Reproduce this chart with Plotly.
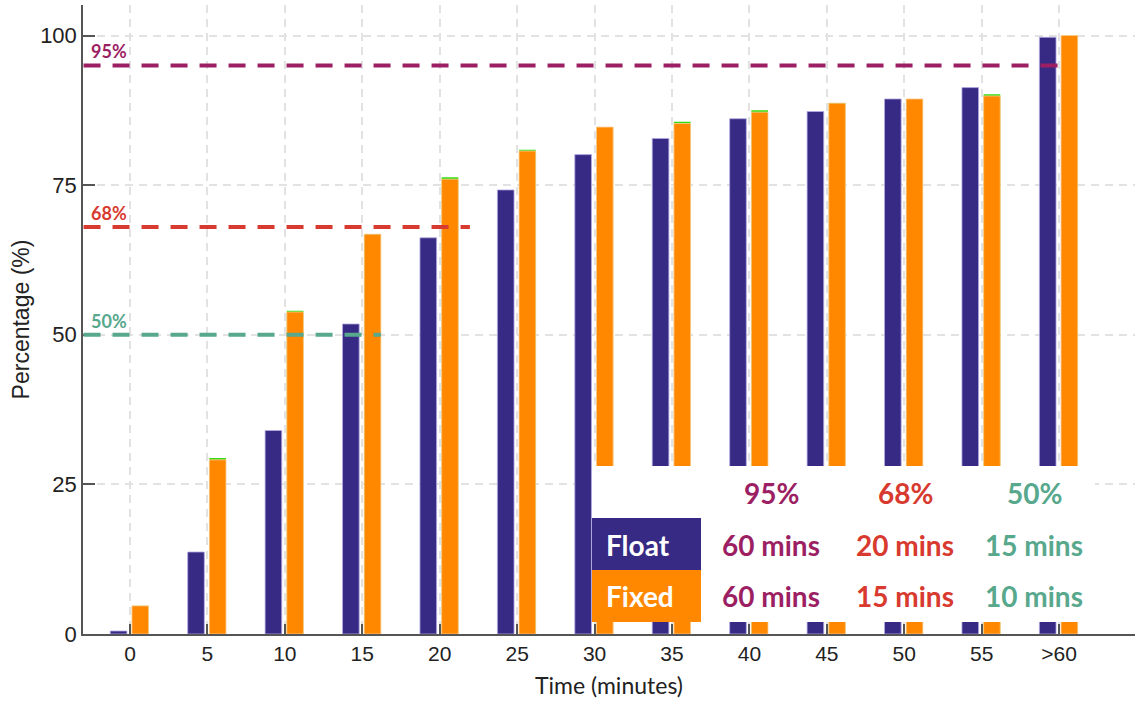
import plotly.graph_objects as go

# Cumulative share of trips completed by time (minutes)
categories = ["0", "5", "10", "15", "20", "25", "30", "35", "40", "45", "50", "55", ">60"]
float_pct = [0.5, 13.7, 34.0, 51.8, 66.2, 74.2, 80.1, 82.8, 86.1, 87.3, 89.4, 91.3, 99.7]
fixed_pct = [4.7, 29.1, 53.8, 66.8, 76.0, 80.7, 84.7, 85.3, 87.2, 88.7, 89.4, 89.9, 100.0]
fixed_alt_pct = [4.7, 29.4, 54.0, 66.8, 76.3, 80.9, 84.7, 85.6, 87.5, 88.7, 89.4, 90.2, 100.0]

# Threshold levels and the time needed to reach each
levels = [95, 68, 50]
level_labels = ["95%", "68%", "50%"]
level_colors = ["#9c1f64", "#d83a2f", "#57a88c"]
level_line_end = [12.09, 4.39, 3.24]
float_mins = ["60 mins", "20 mins", "15 mins"]
fixed_mins = ["60 mins", "15 mins", "10 mins"]

NAVY = "#372a85"
ORANGE = "#ff8800"
GREEN = "#33dd11"

fig = go.Figure()

fig.add_bar(x=categories, y=fixed_alt_pct, offset=0.025, width=0.215,
            marker=dict(color=GREEN, line=dict(width=0)), hoverinfo="skip")
fig.add_bar(x=categories, y=float_pct, offset=-0.255, width=0.215, name="Float",
            marker=dict(color=NAVY, line=dict(color="rgba(180,170,225,0.8)", width=1)))
fig.add_bar(x=categories, y=fixed_pct, offset=0.025, width=0.215, name="Fixed",
            marker=dict(color=ORANGE, line=dict(color="rgba(255,205,150,0.8)", width=1)))

shapes = []
annotations = []

# Dashed threshold lines with their labels
for lvl, lab, col, xend in zip(levels, level_labels, level_colors, level_line_end):
    shapes.append(dict(type="line", xref="x", yref="y", x0=-0.6, x1=xend, y0=lvl, y1=lvl,
                       line=dict(color=col, width=4, dash="17px,12px"), layer="above"))
    annotations.append(dict(xref="paper", yref="y", x=0.006, y=lvl, text=lab, showarrow=False,
                            xanchor="left", yanchor="bottom", yshift=1,
                            font=dict(family="Lato", size=18, color=col, weight="bold")))

# Summary table drawn over the lower-right bars (paper coordinates)
def px(xp):
    return (xp - 83) / 1052

def py(yp):
    return (634 - yp) / 629

shapes.append(dict(type="rect", xref="paper", yref="paper", x0=px(592), x1=px(1095),
                   y0=py(622), y1=py(466), fillcolor="white", line=dict(width=0), layer="above"))
shapes.append(dict(type="rect", xref="paper", yref="paper", x0=px(592), x1=px(701),
                   y0=py(570), y1=py(518), fillcolor=NAVY, line=dict(width=0), layer="above"))
shapes.append(dict(type="rect", xref="paper", yref="paper", x0=px(592), x1=px(701),
                   y0=py(622), y1=py(570), fillcolor=ORANGE, line=dict(width=0), layer="above"))

col_x = [771, 905, 1034]
tfont = dict(family="Lato", size=28, weight="bold")
for cx, lab, col, fl, fx in zip(col_x, level_labels, level_colors, float_mins, fixed_mins):
    for ty, txt in ((493, lab), (545, fl), (596, fx)):
        annotations.append(dict(xref="paper", yref="paper", x=px(cx), y=py(ty), text=txt,
                                xanchor="center", yanchor="middle",
                                showarrow=False, font=dict(tfont, color=col)))
for ty, txt in ((545, "Float"), (596, "Fixed")):
    annotations.append(dict(xref="paper", yref="paper", x=px(604), y=py(ty), text=txt,
                            xanchor="left", yanchor="middle",
                            showarrow=False, font=dict(tfont, color="white")))

fig.update_layout(
    width=1135, height=706,
    margin=dict(l=83, r=0, t=5, b=72),
    paper_bgcolor="white", plot_bgcolor="white",
    barmode="overlay", showlegend=False,
    shapes=shapes, annotations=annotations,
    font=dict(family="Liberation Sans", color="#222"),
)
fig.update_xaxes(
    type="category", range=[-0.607, 12.98],
    showgrid=True, gridcolor="#e2e2e2", griddash="8px,6px", gridwidth=1.5,
    showline=True, linecolor="#555", linewidth=1.5,
    ticks="inside", ticklen=10, tickcolor="#555", tickwidth=1.5,
    tickfont=dict(family="Liberation Sans", size=21, color="#222"),
    title=dict(text="Time (minutes)", standoff=14,
               font=dict(family="Lato", size=23, color="#222")),
)
fig.update_yaxes(
    range=[0, 105.1], tickvals=[0, 25, 50, 75, 100],
    showgrid=True, gridcolor="#e2e2e2", griddash="8px,6px", gridwidth=1.5,
    showline=True, linecolor="#555", linewidth=1.5, zeroline=False,
    ticks="inside", ticklen=12, tickcolor="#555", tickwidth=1.5,
    tickfont=dict(family="Liberation Sans", size=22, color="#222"),
    title=dict(text="Percentage (%)", standoff=4,
               font=dict(family="Liberation Sans", size=23, color="#222")),
)

fig.write_html("out.html")
